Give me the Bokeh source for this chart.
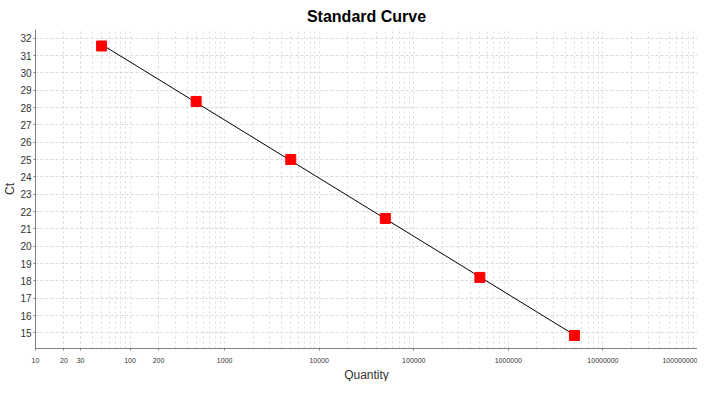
import numpy as np
from bokeh.plotting import figure
from bokeh.models import FixedTicker, PrintfTickFormatter, Range1d, Title
from bokeh.embed import file_html
from bokeh.resources import INLINE

# Data
quantity = [50, 500, 5000, 50000, 500000, 5000000]
ct = [31.55, 28.35, 25.0, 21.6, 18.2, 14.85]

x_major_ticks = [10, 20, 30, 100, 200, 1000, 10000, 100000, 1000000, 10000000, 100000000]
y_ticks = list(range(15, 33))

# minor grid positions (2..9 per decade)
x_minor = [m * 10 ** k for k in range(1, 8) for m in range(2, 10)]

# regression line (fit through the points)
slope, intercept = np.polyfit(np.log10(quantity), ct, 1)
fit_x = [quantity[0], quantity[-1]]
fit_y = [slope * np.log10(v) + intercept for v in fit_x]

FONT = "Liberation Sans"

p = figure(width=697, height=381, x_axis_type="log",
           x_range=Range1d(10, 1e8), y_range=Range1d(14.1, 32.5),
           output_backend="svg", toolbar_location=None,
           title="Standard Curve",
           min_border_left=0, min_border_right=0, min_border_top=0, min_border_bottom=0)

p.title.align = "center"
p.title.text_font = FONT
p.title.text_font_size = "16px"
p.title.text_font_style = "bold"
p.title.text_color = "#000000"
p.title.offset = 0
p.title.standoff = 10

p.outline_line_color = None

# x axis
p.xaxis.ticker = FixedTicker(ticks=x_major_ticks, minor_ticks=x_minor)
p.xaxis.formatter = PrintfTickFormatter(format="%d")
p.xaxis.major_label_text_font_size = "7px"
p.xaxis.major_label_standoff = 5

# y axis
p.yaxis.ticker = FixedTicker(ticks=y_ticks)
p.yaxis.axis_label = "Ct"
p.yaxis.major_label_text_font_size = "10px"
p.yaxis.major_label_standoff = 2

for ax in (p.xaxis, p.yaxis):
    ax.axis_line_color = "#808080"
    ax.axis_line_width = 1
    ax.major_tick_line_color = "#808080"
    ax.major_tick_out = 2
    ax.major_tick_in = 0
    ax.minor_tick_line_color = None
    ax.major_label_text_font = FONT
    ax.major_label_text_color = "#333333"
    ax.axis_label_text_font = FONT
    ax.axis_label_text_font_size = "12px"
    ax.axis_label_text_font_style = "normal"
    ax.axis_label_text_color = "#333333"
p.yaxis.axis_label_standoff = 0

# x-axis title as a title panel below the axis
xt = Title(text="Quantity", align="center", text_font=FONT, text_font_size="12px",
           text_font_style="normal", text_color="#333333", standoff=0, offset=0)
p.add_layout(xt, "below")

# grids
p.xgrid.ticker = FixedTicker(ticks=x_major_ticks, minor_ticks=x_minor)
p.xgrid.grid_line_color = "#dadada"
p.xgrid.grid_line_dash = "2 3"
p.xgrid.minor_grid_line_color = "#dadada"
p.xgrid.minor_grid_line_dash = "2 3"
p.ygrid.ticker = FixedTicker(ticks=y_ticks)
p.ygrid.grid_line_color = "#dadada"
p.ygrid.grid_line_dash = "3 2"

p.line(fit_x, fit_y, line_color="#000000", line_width=1)
p.scatter(quantity, ct, marker="square", size=10, fill_color="#ff0000",
          line_color="#ff0000")

open("out.html", "w").write(file_html(p, INLINE))
